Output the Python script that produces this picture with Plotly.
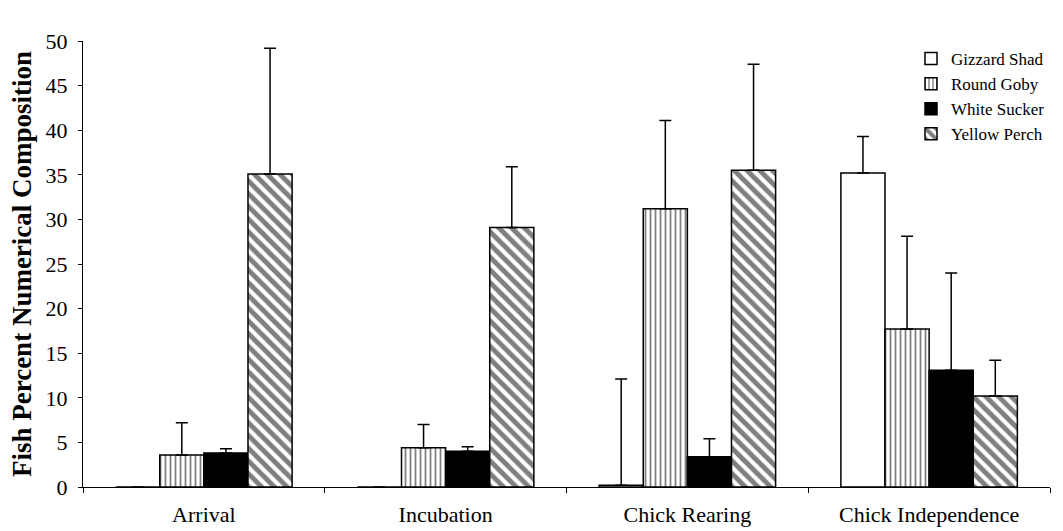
import plotly.graph_objects as go

stages = ["Arrival", "Incubation", "Chick Rearing", "Chick Independence"]
species = ["Gizzard Shad", "Round Goby", "White Sucker", "Yellow Perch"]

gizzard_shad = [0.0, 0.0, 0.2, 35.2]
round_goby = [3.6, 4.4, 31.2, 17.7]
white_sucker = [3.8, 4.0, 3.4, 13.1]
yellow_perch = [35.1, 29.1, 35.5, 10.2]

gizzard_shad_err = [0.0, 0.0, 11.9, 4.1]
round_goby_err = [3.6, 2.6, 9.9, 10.4]
white_sucker_err = [0.5, 0.5, 2.0, 10.9]
yellow_perch_err = [14.1, 6.8, 11.9, 4.0]

values = [gizzard_shad, round_goby, white_sucker, yellow_perch]
errors = [gizzard_shad_err, round_goby_err, white_sucker_err, yellow_perch_err]

patterns = [
    dict(shape="", fillmode="replace"),
    dict(shape="|", size=5, solidity=0.35, fgcolor="black", bgcolor="white", fillmode="overlay"),
    dict(shape="", fillmode="replace"),
    dict(shape="\\", size=9, solidity=0.55, fgcolor="black", bgcolor="white", fillmode="overlay"),
]
fills = ["white", "white", "black", "white"]

fig = go.Figure()
for name, vals, errs, pat, fill in zip(species, values, errors, patterns, fills):
    fig.add_trace(go.Bar(
        name=name,
        x=stages,
        y=vals,
        marker=dict(color=fill, line=dict(color="black", width=1.5), pattern=pat),
        error_y=dict(type="data", symmetric=False, array=errs,
                     arrayminus=[0] * len(errs), color="black",
                     thickness=1.5, width=6),
    ))

serif = "Liberation Serif"

fig.update_layout(
    width=1063, height=531,
    margin=dict(l=83, r=13, t=41, b=44),
    paper_bgcolor="white", plot_bgcolor="white",
    barmode="group", bargap=0.27, bargroupgap=0,
    font=dict(family=serif, size=17, color="black"),
    showlegend=True,
    legend=dict(x=1.0, y=1.0, xanchor="right", yanchor="top",
                bgcolor="rgba(0,0,0,0)", font=dict(family=serif, size=17),
                itemwidth=30, tracegroupgap=0),
    xaxis=dict(
        showline=True, linecolor="black", linewidth=1,
        ticks="outside", ticklen=5, tickcolor="black",
        tickson="boundaries", tickfont=dict(size=22, family=serif),
        ticklabelstandoff=8, showgrid=False, automargin=False,
    ),
    yaxis=dict(
        range=[0, 50], dtick=5, showline=True, linecolor="black", linewidth=1,
        ticks="outside", ticklen=4, tickcolor="black",
        tickfont=dict(size=22, family=serif), showgrid=False, zeroline=False,
        ticklabelstandoff=6, automargin=False,
        title=dict(text="<b>Fish Percent Numerical Composition</b>",
                   font=dict(size=27, family=serif), standoff=6),
    ),
)

fig.write_html("out.html")
